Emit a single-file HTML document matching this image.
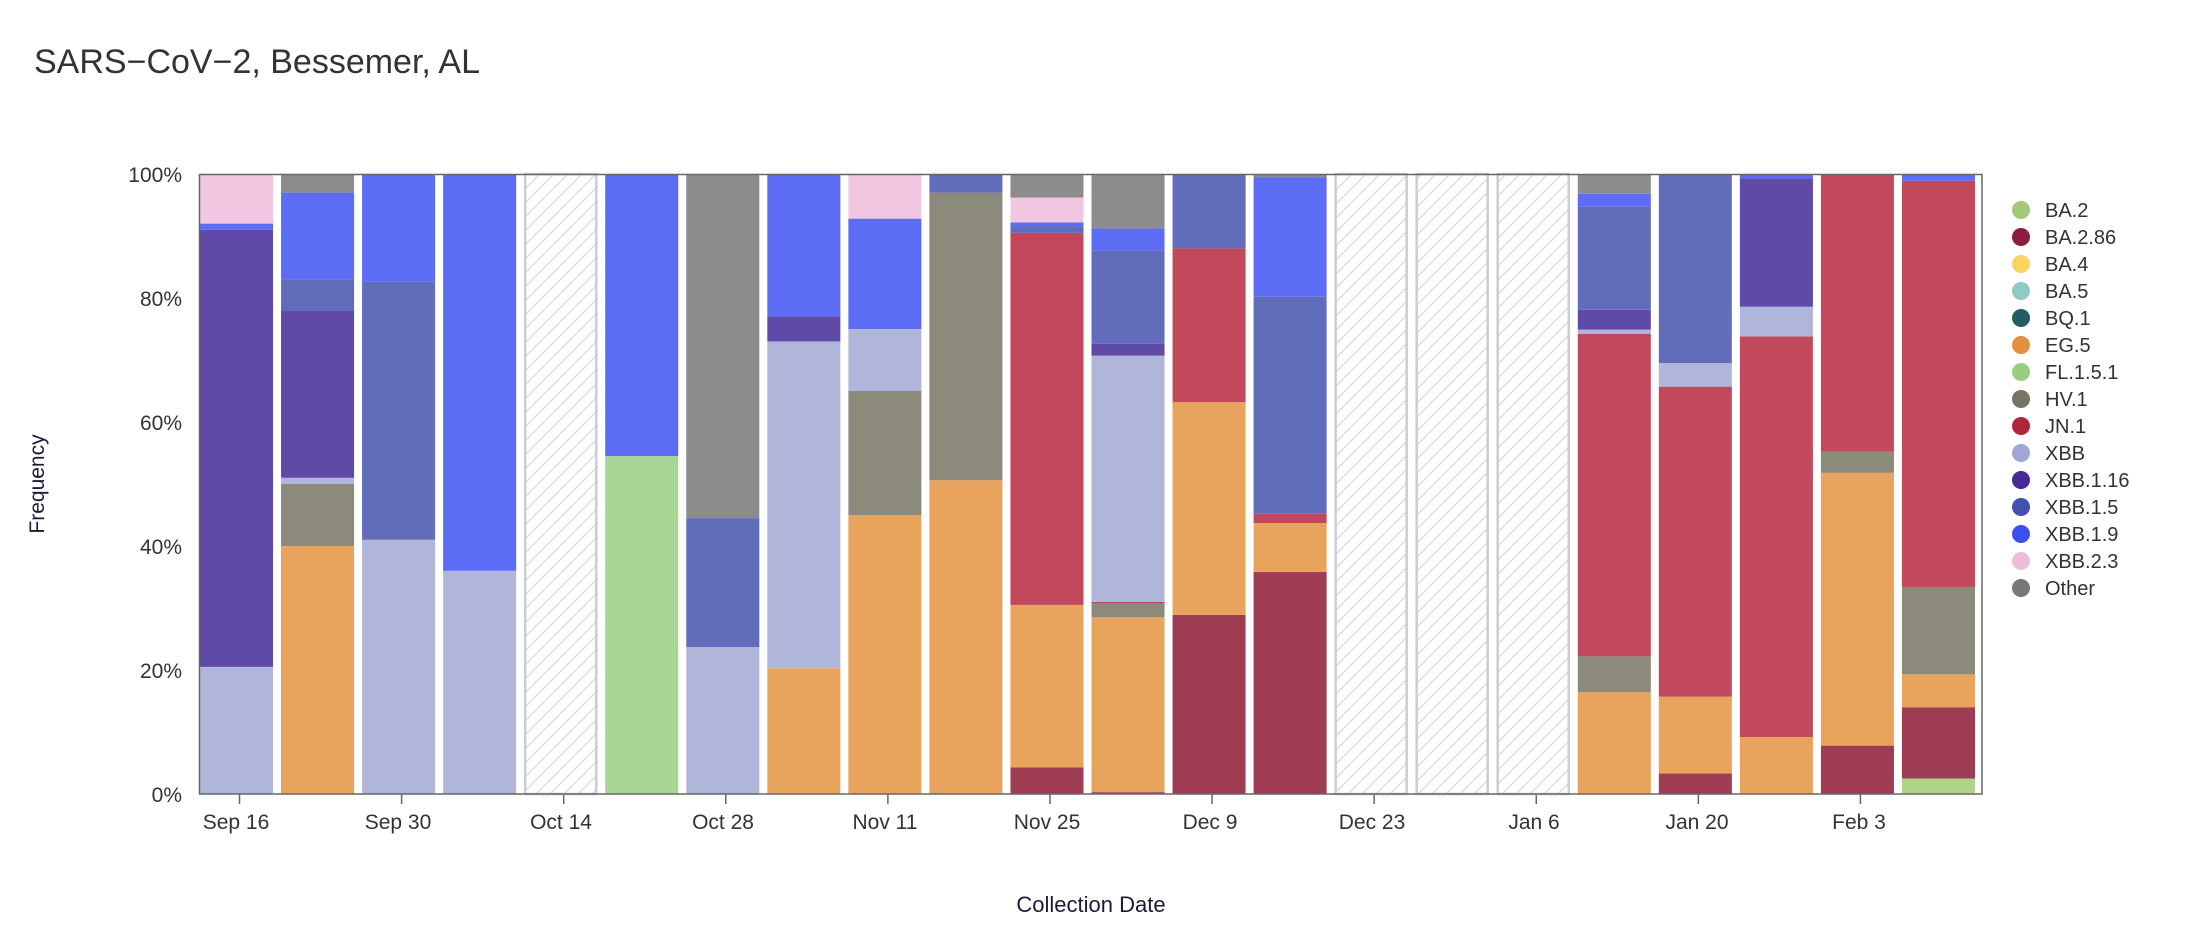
<!DOCTYPE html>
<html><head><meta charset="utf-8"><style>
body{margin:0;background:#fff;width:2196px;height:930px;overflow:hidden}
svg text{font-family:"Liberation Sans",sans-serif}
</style></head><body>
<svg id="s" width="2196" height="930" xmlns="http://www.w3.org/2000/svg">
<defs><pattern id="h" patternUnits="userSpaceOnUse" width="14" height="14"><path d="M-2,16 L16,-2" stroke="#d6d6dc" stroke-width="1.2"/></pattern></defs>
<text x="34" y="73" font-size="34" fill="#333">SARS−CoV−2, Bessemer, AL</text>
<text transform="translate(44,484) rotate(-90)" font-size="21" fill="#1a1a3a" text-anchor="middle">Frequency</text>
<text x="1091" y="912" font-size="22" fill="#1a1a3a" text-anchor="middle">Collection Date</text>
<g font-size="21" fill="#333" text-anchor="end">
<text x="182" y="182">100%</text><text x="182" y="306">80%</text><text x="182" y="430">60%</text><text x="182" y="554">40%</text><text x="182" y="678">20%</text><text x="182" y="802">0%</text>
</g>
<g font-size="21" fill="#333" text-anchor="middle">
<text x="236" y="829">Sep 16</text><text x="398" y="829">Sep 30</text><text x="561" y="829">Oct 14</text><text x="723" y="829">Oct 28</text><text x="885" y="829">Nov 11</text><text x="1047" y="829">Nov 25</text><text x="1210" y="829">Dec 9</text><text x="1372" y="829">Dec 23</text><text x="1534" y="829">Jan 6</text><text x="1697" y="829">Jan 20</text><text x="1859" y="829">Feb 3</text>
</g>
<g id="bars"></g>
<rect x="199.5" y="174.5" width="1782.5" height="619.5" fill="none" stroke="#666" stroke-width="1.5"/>
<g font-size="20" fill="#333">
<circle cx="2021" cy="210" r="9" fill="#a3c977"/><text x="2045" y="217">BA.2</text>
<circle cx="2021" cy="237" r="9" fill="#8b1e3f"/><text x="2045" y="244">BA.2.86</text>
<circle cx="2021" cy="264" r="9" fill="#f7d55e"/><text x="2045" y="271">BA.4</text>
<circle cx="2021" cy="291" r="9" fill="#8ecbc2"/><text x="2045" y="298">BA.5</text>
<circle cx="2021" cy="318" r="9" fill="#245e64"/><text x="2045" y="325">BQ.1</text>
<circle cx="2021" cy="345" r="9" fill="#e38f42"/><text x="2045" y="352">EG.5</text>
<circle cx="2021" cy="372" r="9" fill="#99cd83"/><text x="2045" y="379">FL.1.5.1</text>
<circle cx="2021" cy="399" r="9" fill="#777466"/><text x="2045" y="406">HV.1</text>
<circle cx="2021" cy="426" r="9" fill="#b02539"/><text x="2045" y="433">JN.1</text>
<circle cx="2021" cy="453" r="9" fill="#a0a6d6"/><text x="2045" y="460">XBB</text>
<circle cx="2021" cy="480" r="9" fill="#442a98"/><text x="2045" y="487">XBB.1.16</text>
<circle cx="2021" cy="507" r="9" fill="#4350b0"/><text x="2045" y="514">XBB.1.5</text>
<circle cx="2021" cy="534" r="9" fill="#3d4ef2"/><text x="2045" y="541">XBB.1.9</text>
<circle cx="2021" cy="561" r="9" fill="#edbddc"/><text x="2045" y="568">XBB.2.3</text>
<circle cx="2021" cy="588" r="9" fill="#777"/><text x="2045" y="595">Other</text>
</g>
</svg>
<script>
(function(){
var C={BA2:"#b0d38a",B286:"#9e3c54",EG:"#e8a35c",FL:"#a8d594",HV:"#8c8a7a",JN:"#c2485b",X:"#b0b5da",X116:"#5f4aa8",X15:"#616cbb",X19:"#5c6cf5",X23:"#f0c6e1",O:"#8c8c8c"};
var D=[
[["X",20.5],["X116",91],["X19",92],["X23",100]],
[["EG",40],["HV",50],["X",51],["X116",78],["X15",83],["X19",97],["O",100]],
[["X",41],["X15",82.6],["X19",100]],
[["X",36],["X19",100]],
null,
[["FL",54.5],["X19",100]],
[["X",23.7],["X15",44.5],["O",100]],
[["EG",20.3],["X",73],["X116",77],["X19",100]],
[["EG",45],["HV",65],["X",75],["X19",92.8],["X23",100]],
[["EG",50.6],["HV",97],["X15",100]],
[["B286",4.3],["EG",30.5],["JN",90.5],["X15",91.6],["X19",92.2],["X23",96.2],["O",100]],
[["B286",0.3],["EG",28.5],["HV",30.7],["JN",31],["X",70.7],["X116",72.6],["X15",87.7],["X19",91.2],["O",100]],
[["B286",28.9],["EG",63.2],["JN",88],["X15",100]],
[["B286",35.8],["EG",43.7],["JN",45.2],["X15",80.2],["X19",99.5],["O",100]],
null,null,null,
[["EG",16.4],["HV",22.2],["JN",74.2],["X",74.9],["X116",78.1],["X15",94.7],["X19",96.8],["O",100]],
[["B286",3.3],["EG",15.7],["JN",65.7],["X",69.5],["X15",100]],
[["EG",9.2],["JN",73.8],["X",78.6],["X116",99.3],["X19",100]],
[["B286",7.8],["EG",51.8],["HV",55.2],["JN",100]],
[["BA2",2.5],["B286",14],["EG",19.3],["HV",33.4],["JN",98.9],["X19",100]]];
var g=document.getElementById("bars"),s="",T0=174,B0=794,H=B0-T0,sw=1783/22;
function yy(p){return B0-p/100*H}
for(var i=0;i<22;i++){var x=199+i*sw+1,w=sw-8;
 if(i%2==0){var cx=199+i*sw+sw/2;s+='<line x1="'+cx+'" y1="794" x2="'+cx+'" y2="804" stroke="#666" stroke-width="1.5"/>';}
 if(!D[i]){s+='<rect x="'+(x+1)+'" y="'+T0+'" width="'+(w-2)+'" height="'+H+'" fill="url(#h)" stroke="#ccccd4" stroke-width="2.5"/>';continue;}
 var prev=0;D[i].forEach(function(d){var y1=yy(d[1]),y0=yy(prev);s+='<rect x="'+x+'" y="'+y1+'" width="'+w+'" height="'+(y0-y1)+'" fill="'+C[d[0]]+'"/>';prev=d[1];});
}
g.innerHTML=s;
})();
</script>
</body></html>
